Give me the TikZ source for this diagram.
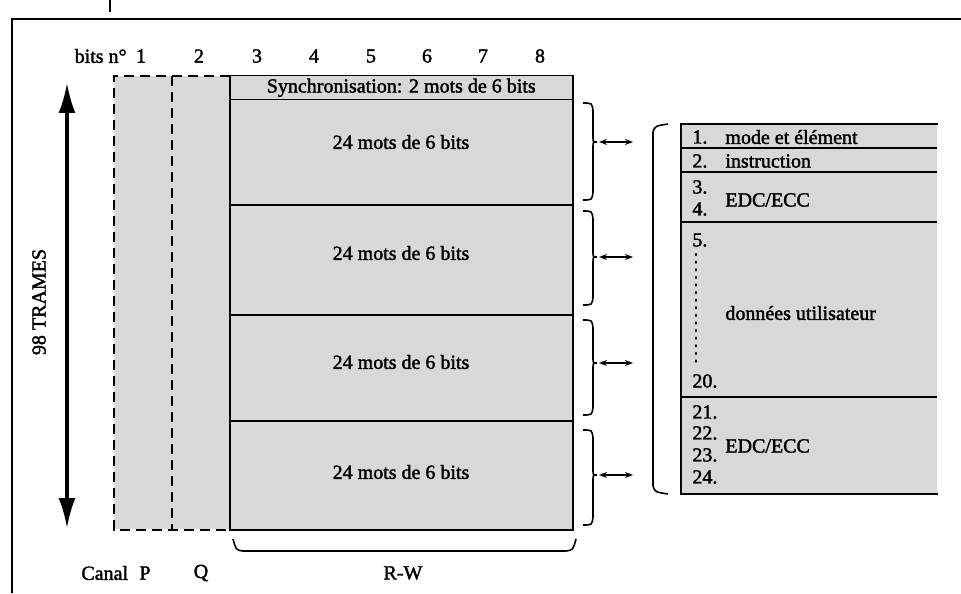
\documentclass[tikz,border=0pt]{standalone}
\usepackage{fontspec}
\setmainfont{Liberation Serif}[FakeBold=1.8]
\usetikzlibrary{arrows.meta}
\definecolor{cellgray}{RGB}{216,216,216}
\begin{document}
\begin{tikzpicture}[x=0.5pt,y=-0.5pt,
  lbl/.style={inner sep=0pt,font=\fontsize{10}{12}\selectfont},
  blk/.style={draw,line width=0.75pt,fill=cellgray,inner sep=0pt,anchor=north west,minimum width=171.5pt},
  brc/.style={line width=0.8pt},
  dsh/.style={line width=1pt,dash pattern=on 5pt off 3pt},
  dbl/.style={{Stealth[length=4pt,width=3pt]}-{Stealth[length=4pt,width=3pt]},line width=0.8pt},
]
\useasboundingbox (0,0) rectangle (961,593);
% frame
\draw[line width=1pt] (12,593) -- (12,19) -- (961,19);
\draw[line width=1pt] (110,0) -- (110,12);
% P/Q area
\node[fill=cellgray,inner sep=0pt,anchor=north west,minimum width=57.5pt,minimum height=226.5pt] (pq) at (114,76) {};
\draw[dsh] (pq.north east) -- (pq.north west) -- (pq.south west) -- (pq.south east);
\draw[dsh] (pq.north) -- (pq.south);
% header labels
\node[lbl,anchor=east] (bitsn) at (127,56) {bits n°};
\foreach \n/\x in {1/141,2/199,3/257,4/314,5/371,6/427,7/483,8/540}
  \node[lbl] (b\n) at (\x,56) {\n};
% R-W block
\node[blk,minimum height=12pt] (sync) at (229,75) {};
\node[lbl] (synct) at (sync.center) {Synchronisation: 2 mots de 6 bits};
\node[blk,minimum height=52.5pt] (r1) at (229,99) {};
\node[blk,minimum height=55pt] (r2) at (229,204) {};
\node[blk,minimum height=53pt] (r3) at (229,314) {};
\node[blk,minimum height=54.5pt] (r4) at (229,420) {};
\node[lbl] (t1) at (401,142) {24 mots de 6 bits};
\node[lbl] (t2) at (401,253) {24 mots de 6 bits};
\node[lbl] (t3) at (401,362) {24 mots de 6 bits};
\node[lbl] (t4) at (401,472) {24 mots de 6 bits};
% vertical arrow
\coordinate (vt) at (67,83);
\coordinate (vb) at (67,528);
\draw[line width=1.6pt,{Latex[length=15pt,width=8.5pt]}-{Latex[length=15pt,width=8.5pt]}] (vt) -- (vb);
\node[lbl,rotate=90] (trames) at (39,302) {98 TRAMES};
% right braces
\foreach \i/\t/\m/\b in {1/103/142/200,2/211/257/305,3/320/363/415,4/430/475/525}{
  \draw[brc] (583,\t) .. controls (592,\t) .. (593,\t+8) -- (593,\m-5) .. controls (593,\m) .. (597,\m)
     .. controls (593,\m) .. (593,\m+5) -- (593,\b-8) .. controls (592,\b) .. (583,\b);
  \coordinate (a\i) at (599,\m);
  \coordinate (c\i) at (633,\m);
  \draw[dbl] (a\i) -- (c\i);
}
% big bracket
\draw[brc] (668,124) .. controls (655,126) .. (653,132) -- (653,486) .. controls (655,492) .. (668,494);
% table
\node[fill=cellgray,inner sep=0pt,anchor=north west,minimum width=128pt,minimum height=184.5pt] (tab) at (681,124) {};
\draw[line width=0.75pt] (tab.north east) -- (tab.north west) -- (tab.south west) -- (tab.south east);
\foreach \yy in {148,172,222,397} \draw[line width=0.75pt] (681,\yy) -- (937,\yy);
\node[lbl,anchor=west] (n1) at (692,137) {1.};
\node[lbl,anchor=west] (l1) at (725,137) {mode et élément};
\node[lbl,anchor=west] (n2) at (692,161) {2.};
\node[lbl,anchor=west] (l2) at (725,161) {instruction};
\node[lbl,anchor=west] (n3) at (692,187) {3.};
\node[lbl,anchor=west] (n4) at (692,209) {4.};
\node[lbl,anchor=west] (l3) at (725,200) {EDC/ECC};
\node[lbl,anchor=west] (n5) at (692,240) {5.};
\draw[line width=1.2pt,dash pattern=on 0.6pt off 3.2pt,line cap=round] (696,254) -- (696,366);
\node[lbl,anchor=west] (l5) at (725,313) {données utilisateur};
\node[lbl,anchor=west] (n20) at (692,381) {20.};
\node[lbl,anchor=west] (n21) at (692,412) {21.};
\node[lbl,anchor=west] (n22) at (692,433) {22.};
\node[lbl,anchor=west] (n23) at (692,455) {23.};
\node[lbl,anchor=west] (n24) at (692,477) {24.};
\node[lbl,anchor=west] (l21) at (725,446) {EDC/ECC};
% bottom brace
\draw[brc] (233,539) .. controls (236,550) .. (243,551) -- (566,551) .. controls (573,550) .. (576,539);
\node[lbl] (rw) at (403,573) {R-W};
\node[lbl,anchor=west] (canal) at (81,573) {Canal};
\node[lbl] (P) at (145,573) {P};
\node[lbl] (Q) at (201,573) {Q};
\end{tikzpicture}
\end{document}
